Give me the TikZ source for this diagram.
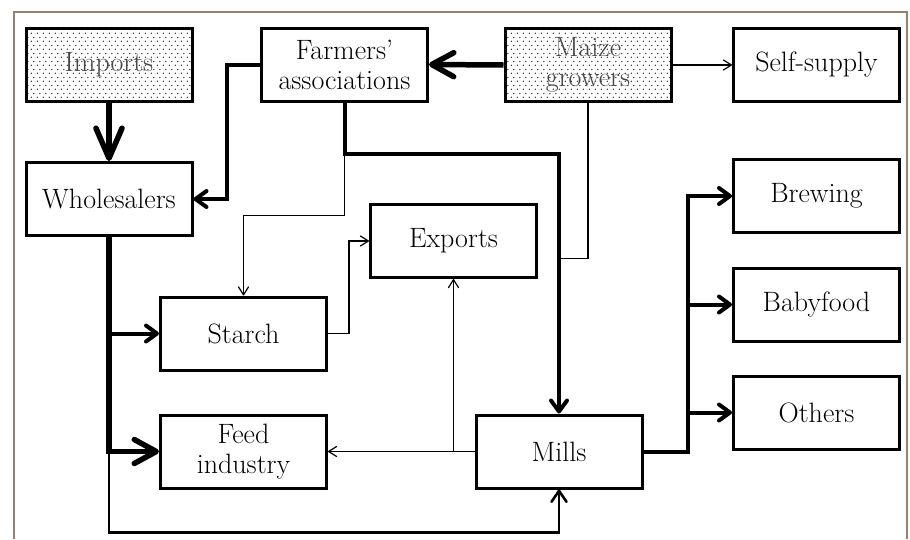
\documentclass[tikz,border=0pt]{standalone}
\usepackage{tikz}
\usetikzlibrary{
	arrows.meta,
	calc,
	patterns,
	positioning
}
\definecolor{FrameBrown}{RGB}{150,128,110}
\definecolor{DotText}{RGB}{70,70,70}

\pgfdeclarepatternformonly{growerdots}{\pgfqpoint{0pt}{0pt}}{\pgfqpoint{6pt}{8pt}}{\pgfqpoint{6pt}{8pt}}{
	\pgfpathcircle{\pgfqpoint{1.5pt}{2pt}}{0.75pt}
	\pgfpathcircle{\pgfqpoint{4.5pt}{6pt}}{0.75pt}
	\pgfusepath{fill}
}

\tikzset{
	box/.style={draw, line width=3pt, minimum width=166pt, minimum height=73pt,
		align=center, inner sep=1pt, font=\fontsize{28}{30}\selectfont},
	dotbox/.style={box, pattern=growerdots, pattern color=black, text=DotText},
	thinflow/.style={line width=1.2pt, -{Straight Barb[length=8pt,width=10pt,round]}},
	midflow/.style={line width=4pt, -{Straight Barb[length=11pt,width=16pt,round]}},
	loopflow/.style={line width=2.6pt, -{Straight Barb[length=11pt,width=15pt,round]}},
	hugeflow/.style={line width=5.5pt, -{Straight Barb[length=22pt,width=24pt,round]}}
}

\begin{document}
\begin{tikzpicture}[x=1pt, y=-1pt]
	\useasboundingbox (0,0) rectangle (910,539);
	\draw[FrameBrown, line width=2pt] (14,539) -- (14,12) -- (907,12) -- (907,539);

	% boxes
	\node[dotbox] (imp) at (109,65) {Imports};
	\node[box] (farm) at (344.5,64.5) {Farmers'\\associations};
	\node[dotbox] (maize) at (588,65) {Maize\\growers};
	\node[box] (self) at (816.5,65) {Self-supply};
	\node[box] (whole) at (109,199) {Wholesalers};
	\node[box] (exp) at (453.5,241) {Exports};
	\node[box] (brew) at (816.5,196) {Brewing};
	\node[box] (starch) at (243.5,333.5) {Starch};
	\node[box] (feed) at (243.5,451.5) {Feed\\industry};
	\node[box] (baby) at (816.5,304.5) {Babyfood};
	\node[box] (oth) at (816.5,412.5) {Others};
	\node[box] (mills) at (559,451.5) {Mills};

	% flows from the growers
	\draw[hugeflow, -{Straight Barb[length=30pt,width=26pt,round]}] (imp.south) -- (whole.north);
	\draw[hugeflow] (maize.west) -- (farm.east);
	\draw[thinflow] (maize.east) -- (self.west);
	\draw[midflow] (farm.west) -- ++(-33,0) |- (whole.east);
	\draw[midflow] (farm.south) -- ++(0,51) coordinate (fj) -| (mills.north);
	\draw[thinflow] (fj) -- ++(0,62) -| (starch.north);
	\draw[line width=1.2pt] (maize.south) |- ($(fj -| mills.north)+(0,105)$);
	\draw[thinflow] (starch.east) -- ++(21,0) |- (exp.west);

	% wholesalers
	\draw[hugeflow] (whole.south) |- (feed.west);
	\draw[midflow] (whole.south |- starch.west) -- (starch.west);
	\draw[loopflow] (whole.south |- feed.west) -- ++(0,81) -| (mills.south);

	% mills
	\draw[thinflow] (mills.west) -- (feed.east);
	\coordinate (mj) at (exp.south |- mills.west);
	\draw[thinflow] (mj) -- (exp.south);
	\draw[midflow] (mills.east) -- ++(44,0) coordinate (mk) |- (brew.west);
	\draw[midflow] (mk |- baby.west) -- (baby.west);
	\draw[midflow] (mk |- oth.west) -- (oth.west);
\end{tikzpicture}
\end{document}
